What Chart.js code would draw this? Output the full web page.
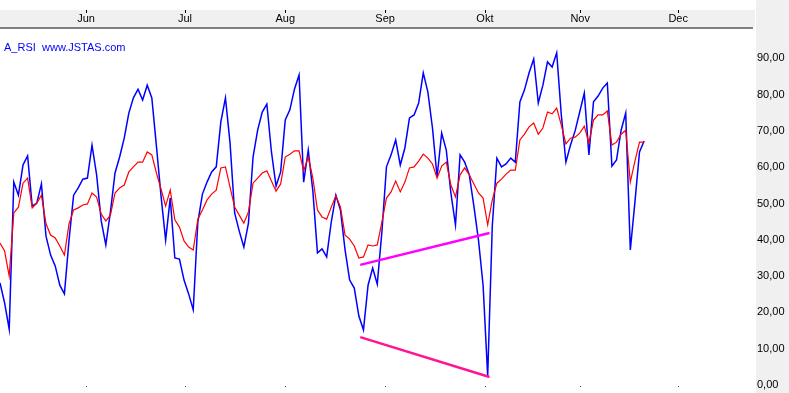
<!DOCTYPE html>
<html><head><meta charset="utf-8">
<script src="https://cdn.jsdelivr.net/npm/chart.js@4/dist/chart.umd.min.js"></script>
<style>html,body{margin:0;padding:0;background:#fff;overflow:hidden}#c{display:block}</style>
</head><body>
<canvas id="c" width="789" height="393"></canvas>
<script>
// ---- data ----
const monthLabels = ['Jun','Jul','Aug','Sep','Okt','Nov','Dec'];
const monthPos = [18.7, 40.2, 62.0, 83.7, 105.4, 126.1, 147.4]; // trading-day index of month start
const yTicks = [0,10,20,30,40,50,60,70,80,90];
const rsi = [28.1,22.6,15.4,55.9,52.3,60.6,63.1,49.3,50.1,55.4,
  41.0,35.8,32.8,27.5,25.1,39.9,52.3,54.3,56.7,57.0,
  66.1,57.9,45.2,38.6,47.7,58.4,62.8,68.0,74.9,79.1,
  81.5,78.5,82.6,79.1,65.8,52.1,39.9,51.5,35.0,34.7,
  28.9,25.1,20.7,44.9,52.6,55.9,58.7,60.1,72.5,79.1,
  66.7,47.4,42.4,38.0,44.6,62.8,70.2,75.2,77.4,64.2,
  54.8,58.7,73.0,75.8,81.5,85.4,55.9,64.7,53.4,36.4,
  37.5,35.3,44.9,52.3,48.2,37.2,28.9,26.7,19.0,15.2,
  27.5,32.2,27.8,42.1,60.1,63.4,67.5,60.6,65.3,73.6,
  74.4,77.7,86.0,80.7,70.8,57.3,69.4,64.7,52.9,44.1,
  63.4,61.4,57.9,49.3,39.9,27.5,2.5,43.8,62.5,60.1,
  60.9,62.5,61.4,78.0,81.3,86.0,89.8,77.7,82.6,89.0,
  87.6,91.5,74.4,61.4,66.1,70.0,75.2,80.4,63.4,78.0,
  79.6,81.8,83.2,60.3,62.0,70.2,74.9,37.2,50.4,64.2,
  67.2];
const rsiAvg = [39.1,36.9,30.0,47.4,49.0,55.6,57.0,48.8,50.1,52.3,
  44.4,41.3,40.5,38.3,35.8,44.4,48.2,48.8,49.6,49.9,
  52.9,51.8,47.1,45.2,46.8,52.9,54.3,55.1,58.7,60.1,
  61.4,61.4,64.2,63.4,58.4,54.0,49.3,53.7,45.5,43.5,
  39.7,38.0,37.2,45.7,48.2,51.0,52.6,53.7,59.8,60.1,
  54.5,49.0,46.8,44.6,47.7,55.6,57.0,58.4,59.0,56.2,
  53.4,55.4,62.8,63.6,64.5,64.5,59.0,62.8,57.0,48.2,
  46.3,45.7,49.0,52.1,49.0,41.3,40.2,38.3,35.0,35.3,
  38.6,38.3,38.6,44.9,51.5,53.2,56.2,53.2,55.9,59.8,
  60.1,61.7,63.6,62.5,60.9,57.0,60.3,61.4,55.1,51.8,
  57.9,59.8,57.9,55.4,52.9,51.5,44.1,51.0,55.6,56.7,
  58.1,59.2,59.2,67.5,69.1,71.1,72.2,69.1,70.8,75.2,
  74.7,76.3,71.6,66.4,68.0,68.3,69.4,71.3,66.7,73.0,
  74.4,74.4,75.5,66.1,66.9,69.1,70.2,55.9,61.7,66.9,
  66.9];
const trendUpperX = [78.3, 106.4], trendUpperY = [33.1, 41.9];
const trendLowerX = [78.3, 106.4], trendLowerY = [13.2, 2.2];
const xRange = [0, 164.1];
const yRange = [-2.2, 98.35];

// ---- chart ----
const FONT = {family: "'Liberation Sans', Arial, sans-serif", size: 11};
const frame = {
  id: 'frame',
  beforeDraw(chart) {
    const c = chart.ctx, W = chart.width, H = chart.height;
    c.save();
    c.fillStyle = '#ffffff'; c.fillRect(0, 0, W, H);
    c.fillStyle = '#f0f0f0'; c.fillRect(0, 10, 755, 17);
    c.fillStyle = '#808080'; c.fillRect(0, 27, 753, 2);
    c.fillStyle = '#f0f0f0'; c.fillRect(756, 0, W - 756, H);
    c.restore();
  },
  afterDraw(chart) {
    const c = chart.ctx, xs = chart.scales.x;
    c.save();
    c.fillStyle = '#000000';
    monthPos.forEach(v => { const px = Math.round(xs.getPixelForValue(v)); c.fillRect(px, 10, 1, 3); });
    c.fillStyle = '#008000';
    monthPos.forEach(v => { const px = Math.round(xs.getPixelForValue(v)); c.fillRect(px, 386, 1, 1); });
    c.fillStyle = '#0000ff';
    c.font = "11px 'Liberation Sans', Arial, sans-serif";
    c.textBaseline = 'middle';
    c.fillText('A_RSI', 4, 47.5);
    c.fillText('www.JSTAS.com', 42, 47.5);
    c.restore();
  }
};

new Chart(document.getElementById('c'), {
  type: 'line',
  data: {
    datasets: [
      {data: trendUpperX.map((x, i) => ({x, y: trendUpperY[i]})), borderColor: '#ff00ff', borderWidth: 2.5},
      {data: trendLowerX.map((x, i) => ({x, y: trendLowerY[i]})), borderColor: '#ff1493', borderWidth: 2.5},
      {data: rsiAvg.map((y, i) => ({x: i, y})), borderColor: '#ff0000', borderWidth: 1.2},
      {data: rsi.map((y, i) => ({x: i, y})), borderColor: '#0000ff', borderWidth: 1.5}
    ]
  },
  options: {
    responsive: false, animation: false, devicePixelRatio: 1,
    layout: {padding: 0},
    elements: {point: {radius: 0}, line: {tension: 0, fill: false}},
    plugins: {legend: {display: false}, tooltip: {enabled: false}, title: {display: false}},
    scales: {
      x: {
        type: 'linear', position: 'top', min: xRange[0], max: xRange[1],
        grid: {display: false, drawTicks: false}, border: {display: false},
        afterBuildTicks: s => { s.ticks = monthPos.map(v => ({value: v})); },
        ticks: {callback: (v, i) => monthLabels[i], font: FONT, color: '#000', padding: 2, autoSkip: false, maxRotation: 0},
        afterFit: s => { s.height = 28; s.paddingLeft = 0; s.paddingRight = 0; }
      },
      y: {
        type: 'linear', position: 'right', min: yRange[0], max: yRange[1],
        grid: {display: false, drawTicks: false}, border: {display: false},
        afterBuildTicks: s => { s.ticks = yTicks.map(v => ({value: v})); },
        ticks: {callback: v => v.toFixed(2).replace('.', ','), font: FONT, color: '#000', padding: 2},
        afterFit: s => { s.width = 34; s.paddingTop = 0; s.paddingBottom = 0; }
      }
    }
  },
  plugins: [frame]
});
</script>
</body></html>
